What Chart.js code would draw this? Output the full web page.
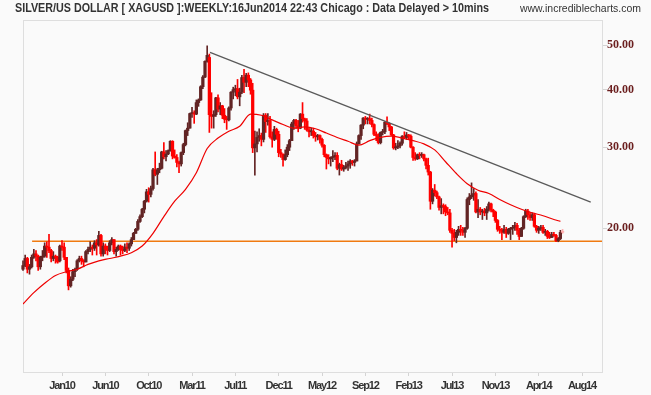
<!DOCTYPE html>
<html>
<head>
<meta charset="utf-8">
<script src="https://cdn.jsdelivr.net/npm/chart.js@4.4.0/dist/chart.umd.min.js"></script>
<style>
  html, body { margin: 0; padding: 0; background: #fafafa; }
  #wrap { position: relative; width: 651px; height: 395px; }
  #title { position: absolute; left: 15px; top: 1px; line-height: 14px; font: bold 12px 'Liberation Sans', Arial, sans-serif; color: #333; white-space: nowrap; transform-origin: left top; }
  #site { position: absolute; left: 520px; top: 2px; line-height: 14px; font: 11px 'Liberation Sans', Arial, sans-serif; color: #333; white-space: nowrap; transform-origin: left top; }
</style>
</head>
<body>
<div id="wrap">
  <canvas id="chart" width="651" height="395"></canvas>
  <div id="title">SILVER/US DOLLAR [ XAGUSD ]:WEEKLY:16Jun2014 22:43 Chicago : Data Delayed &gt; 10mins</div>
  <div id="site">www.incrediblecharts.com</div>
</div>
<script>
// weekly bars, week 0 = 7 Sep 2009, last = 16 Jun 2014 (still open)
const opens = [
  // 2009
  16.3,16.6,17.2,16.3,16.5,17.3,17.6,17.4,16.5,17.3,17.4,18.3,18.2,17.9,17.2,17.4,17.3,
  // 2010
  17.0,18.3,18.2,17.3,16.2,15.0,15.5,16.1,16.3,17.0,17.2,17.0,16.9,17.8,18.0,18.2,18.1,18.6,18.4,19.3,
  17.6,18.3,18.0,17.9,18.6,18.9,17.8,18.0,18.3,18.0,17.9,18.2,18.1,18.5,18.9,19.5,19.9,20.7,21.2,22.0,
  22.9,24.0,23.7,24.4,26.8,26.2,26.8,27.0,29.3,28.6,29.0,29.5,
  // 2011
  30.9,28.7,28.5,27.8,27.6,29.2,30.4,32.6,33.0,35.5,35.6,35.4,37.5,38.0,40.6,42.6,46.1,47.0,35.3,35.0,
  35.3,38.4,36.3,36.9,35.2,34.5,34.4,36.5,39.5,40.0,40.2,38.6,39.5,42.5,41.5,43.0,42.0,39.9,29.9,30.5,
  31.5,31.8,31.2,35.2,34.1,34.3,31.6,31.2,32.8,32.0,29.2,29.0,
  // 2012
  28.2,28.9,30.0,31.0,33.7,34.3,33.4,33.0,35.4,34.6,34.2,32.7,32.4,32.5,31.8,31.6,31.8,31.2,30.3,28.9,
  28.5,28.3,28.5,28.6,28.8,27.0,27.5,26.9,27.1,27.3,27.6,28.0,27.8,28.0,30.5,31.8,33.5,34.7,34.5,34.6,
  34.3,33.6,32.0,31.8,30.7,32.3,32.4,34.0,33.8,33.2,31.9,29.9,
  // 2013
  30.0,30.2,30.6,31.7,31.5,31.9,31.7,30.0,28.5,28.3,28.9,28.8,28.9,28.3,27.4,26.5,22.9,24.2,23.9,23.4,
  22.2,22.4,22.3,21.7,21.6,19.8,19.5,19.1,19.6,19.9,19.8,19.6,20.0,23.1,23.4,23.6,23.8,21.7,22.0,21.7,
  21.8,21.6,22.0,22.6,21.9,21.7,20.8,19.9,19.8,19.6,19.9,19.5,
  // 2014
  19.9,20.0,20.1,20.3,19.8,19.2,20.0,21.2,21.8,21.4,21.1,21.4,20.2,19.8,20.0,20.1,19.6,19.7,19.2,19.1,
  19.4,19.3,18.8,19.0,19.6
];
const highs = [
  17.0,17.5,17.3,16.7,17.5,18.0,17.9,17.5,17.4,17.9,18.6,18.7,19.4,18.0,17.8,17.5,17.4,
  18.4,18.8,18.6,17.3,16.4,15.7,16.3,16.4,17.1,17.4,17.4,17.1,17.9,18.2,18.7,18.4,18.8,18.9,19.7,19.4,
  18.6,18.5,18.3,18.8,19.1,18.9,18.2,18.4,18.4,18.3,18.5,18.6,18.6,19.1,19.6,20.0,20.9,21.4,22.1,23.0,
  24.3,24.5,24.7,27.0,29.3,27.0,27.7,29.4,30.7,29.5,29.6,31.0,
  31.0,29.6,28.9,28.0,29.3,30.6,32.7,33.9,35.6,36.6,36.0,38.0,38.2,40.8,42.9,46.2,49.8,47.8,39.4,36.0,
  38.5,39.0,37.5,37.0,36.4,35.0,36.7,39.6,40.5,40.9,42.1,40.3,43.0,44.3,43.4,43.5,42.3,41.3,32.5,32.4,
  32.9,32.2,35.5,35.5,35.5,35.0,32.4,33.3,33.0,32.5,29.7,29.0,
  29.6,30.4,31.2,34.0,34.5,34.5,34.3,35.5,37.5,34.7,34.6,33.0,33.0,33.0,32.3,32.0,31.9,31.4,30.4,29.0,
  28.9,28.6,29.5,29.2,29.2,27.7,28.1,27.4,27.8,28.0,28.2,28.1,28.2,30.8,31.9,33.6,34.8,35.0,34.8,35.4,
  34.7,33.7,32.4,32.1,32.4,32.8,34.1,34.9,33.9,33.3,32.0,30.6,
  31.0,30.8,31.8,32.4,32.3,32.0,31.9,30.1,29.2,29.0,29.2,29.2,29.0,28.4,28.4,26.6,24.4,24.9,24.1,23.5,
  23.2,22.6,22.5,22.2,22.0,20.0,19.9,19.8,20.2,20.3,20.1,20.1,23.3,23.8,25.1,24.4,24.0,23.1,22.2,22.0,
  22.1,22.3,22.8,22.7,22.0,21.8,20.9,20.2,20.0,20.3,20.1,20.0,
  20.1,20.3,20.6,20.5,20.0,20.1,21.3,22.0,22.0,21.6,21.6,21.5,20.3,20.2,20.3,20.3,19.9,19.8,19.6,19.6,
  19.6,19.4,19.1,19.8,19.9
];
const lows = [
  16.2,16.5,16.0,15.9,16.4,17.2,17.0,16.2,16.3,17.0,17.3,17.3,17.7,16.9,17.0,16.8,16.8,
  16.9,17.9,17.1,16.0,14.7,14.9,15.4,15.7,16.2,16.9,16.7,16.5,16.9,17.6,17.8,17.5,17.9,17.5,18.3,17.4,
  17.4,17.6,17.5,17.8,18.4,17.6,17.4,17.9,17.5,17.6,17.8,17.7,17.9,18.3,18.9,19.5,19.8,20.6,21.1,21.6,
  22.8,22.8,23.4,24.2,26.0,24.9,26.4,26.9,28.3,28.0,28.9,29.4,
  28.3,28.4,27.2,26.4,27.3,28.9,30.2,31.8,33.0,34.8,33.8,35.3,36.8,37.9,40.2,42.5,45.9,32.3,33.0,33.0,
  35.0,35.8,35.3,34.6,33.9,32.8,34.2,36.1,38.2,38.8,38.2,36.9,39.2,39.4,40.6,40.6,39.1,29.2,26.1,29.3,
  30.9,30.2,30.8,32.3,33.5,31.4,30.0,31.0,31.2,28.6,28.5,27.3,
  28.1,28.6,29.5,31.0,32.8,33.0,32.4,32.9,34.0,32.8,32.5,31.6,31.8,31.4,30.9,31.1,30.6,30.0,28.6,26.9,
  27.6,27.3,27.9,28.2,26.8,26.1,26.7,26.6,26.9,26.7,27.0,27.4,27.3,28.0,30.5,31.2,32.9,33.7,33.7,33.7,
  33.2,31.8,31.0,30.5,30.5,31.9,32.1,33.6,32.6,31.8,29.7,29.6,
  29.8,29.9,30.3,31.4,31.2,31.3,29.9,28.1,28.1,28.2,28.3,28.5,28.0,26.9,26.1,22.0,22.6,23.5,23.2,21.9,
  21.5,21.5,21.3,21.4,19.6,18.2,18.8,18.6,19.3,19.3,19.3,19.1,19.9,22.5,23.2,23.0,21.6,21.1,21.4,20.9,
  21.3,20.9,21.8,21.7,21.2,20.6,19.7,19.5,18.9,19.5,19.1,19.4,
  18.9,19.4,19.8,19.4,18.9,19.2,19.9,21.1,20.9,20.8,20.8,20.1,19.6,19.5,19.8,19.5,19.3,19.0,19.0,19.1,
  19.2,18.7,18.7,18.9,19.5
];
const closes = [
  16.6,17.2,16.3,16.5,17.3,17.6,17.4,16.5,17.3,17.4,18.3,18.2,17.9,17.2,17.4,17.3,16.9,
  18.3,18.2,17.3,16.2,15.0,15.5,16.1,16.3,17.0,17.2,17.0,16.9,17.8,18.0,18.2,18.1,18.6,18.4,19.3,17.6,
  18.3,18.0,17.9,18.6,18.9,17.8,18.0,18.3,18.0,17.9,18.2,18.1,18.5,18.9,19.5,19.9,20.7,21.2,22.0,22.9,
  24.0,23.7,24.4,26.8,26.2,26.8,27.0,29.3,28.6,29.0,29.5,30.9,
  28.7,28.5,27.8,27.6,29.2,30.4,32.6,33.0,35.5,35.6,35.4,37.5,38.0,40.6,42.6,46.1,47.5,35.3,35.0,35.3,
  38.4,36.3,36.9,35.2,34.5,34.4,36.5,39.5,40.0,40.2,38.6,39.5,42.5,41.5,43.0,42.0,39.9,29.9,30.5,31.5,
  31.8,31.2,35.2,34.1,34.3,31.6,31.2,32.8,32.0,29.2,29.0,28.2,
  28.9,30.0,31.0,33.7,34.3,33.4,33.0,35.4,34.6,34.2,32.7,32.4,32.5,31.8,31.6,31.8,31.2,30.3,28.9,28.5,
  28.3,28.5,28.6,28.8,27.0,27.5,26.9,27.1,27.3,27.6,28.0,27.8,28.0,30.5,31.8,33.5,34.7,34.5,34.6,34.3,
  33.6,32.0,31.8,30.7,32.3,32.4,34.0,33.8,33.2,31.9,29.9,30.0,
  30.2,30.6,31.7,31.5,31.9,31.7,30.0,28.5,28.3,28.9,28.8,28.9,28.3,27.4,26.5,22.9,24.2,23.9,23.4,22.2,
  22.4,22.3,21.7,21.6,19.8,19.5,19.1,19.6,19.9,19.8,19.6,20.0,23.1,23.4,23.6,23.8,21.7,22.0,21.7,21.8,
  21.6,22.0,22.6,21.9,21.7,20.8,19.9,19.8,19.6,19.9,19.5,19.9,
  20.0,20.1,20.3,19.8,19.2,20.0,21.2,21.8,21.4,21.1,21.4,20.2,19.8,20.0,20.1,19.6,19.7,19.2,19.1,19.4,
  19.3,18.8,19.0,19.6,19.7
];

// moving average
const maWeeks = [0,5,10,15,20,25,30,35,40,45,50,55,60,65,70,75,80,85,90,95,100,105,110,115,120,125,
  130,135,140,145,150,155,160,165,170,175,180,185,190,195,200,205,210,215,220,225,230,235,240,245,248];
const maValues = [13.7,14.5,15.2,15.8,16.1,16.3,16.7,17.0,17.2,17.4,17.7,18.3,19.5,21.2,22.9,24.3,26.4,
  29.8,31.4,32.5,33.3,35.4,35.2,34.4,33.6,33.0,33.2,32.9,32.2,31.5,30.9,30.3,31.0,31.5,31.7,31.4,31.0,
  30.5,29.6,27.9,26.3,25.0,24.2,23.8,23.1,22.5,22.0,21.6,21.3,20.9,20.7];

// drawn lines
const trendWeeks = [86.3, 262];
const trendValues = [48.2, 22.8];
const supportWeeks = [4.2, 267.2];
const supportValues = [18.74, 18.74];

const tickWeeks = [18,38,58,78,98,118,138,158,178,198,218,238,258];
const tickLabels = ['Jan10','Jun10','Oct10','Mar11','Jul11','Dec11','May12','Sep12','Feb13','Jul13','Nov13','Apr14','Aug14'];
const priceTicks = [20, 30, 40, 50];

const upColor = '#622424';
const downColor = '#ff0000';
const liveColor = '#ffb0b0';

function barColor(ctx) {
  const i = ctx.dataIndex;
  if (i === closes.length - 1) return liveColor;
  return closes[i] >= opens[i] ? upColor : downColor;
}

// squeeze header text to the narrow look of the original
function fitText(id, width) {
  const el = document.getElementById(id);
  const w = el.getBoundingClientRect().width;
  el.style.transform = 'scaleX(' + (width / w) + ')';
}
fitText('title', 474);
fitText('site', 121);

const framePlugin = {
  id: 'frame',
  beforeDatasetsDraw(chart) {
    const a = chart.chartArea;
    const ctx = chart.ctx;
    ctx.save();
    ctx.strokeStyle = '#dedede';
    ctx.lineWidth = 1;
    ctx.strokeRect(Math.round(a.left) + 0.5, Math.round(a.top) + 0.5,
      Math.round(a.right - a.left), Math.round(a.bottom - a.top));
    ctx.restore();
  }
};

// the date labels in the original use a narrow face
const narrowLabels = {
  id: 'narrowLabels',
  afterLayout(chart) {
    const xs = chart.scales.x;
    if (xs._narrowed) return;
    const draw = xs.drawLabels;
    xs.drawLabels = function (area) {
      this.ctx.save();
      this.ctx.letterSpacing = '-1.1px';
      draw.call(this, area);
      this.ctx.restore();
    };
    xs._narrowed = true;
  }
};

new Chart(document.getElementById('chart'), {
  type: 'bar',
  data: {
    datasets: [
      {
        type: 'line',
        data: supportWeeks.map((w, i) => ({ x: w, y: supportValues[i] })),
        borderColor: '#f07a10',
        borderWidth: 1.4,
        pointRadius: 0,
        order: 6
      },
      {
        data: closes.map((c, i) => ({ x: i, y: [lows[i], highs[i]] })),
        backgroundColor: barColor,
        barThickness: 1,
        grouped: false,
        clip: false,
        order: 5
      },
      {
        data: closes.map((c, i) => ({ x: i, y: [opens[i], c] })),
        backgroundColor: barColor,
        barThickness: 2.6,
        minBarLength: 1,
        grouped: false,
        clip: false,
        order: 4
      },
      {
        type: 'line',
        data: maWeeks.map((w, i) => ({ x: w, y: maValues[i] })),
        borderColor: '#ee0000',
        borderWidth: 1.2,
        pointRadius: 0,
        cubicInterpolationMode: 'monotone',
        order: 2
      },
      {
        type: 'line',
        data: trendWeeks.map((w, i) => ({ x: w, y: trendValues[i] })),
        borderColor: '#5a5a5a',
        borderWidth: 1.3,
        pointRadius: 0,
        order: 1
      }
    ]
  },
  options: {
    responsive: false,
    animation: false,
    layout: { padding: { left: 23, top: 20, right: 0, bottom: 0 } },
    plugins: {
      legend: { display: false },
      tooltip: { enabled: false }
    },
    scales: {
      x: {
        type: 'linear',
        offset: false,
        min: 0,
        max: 267.2,
        afterBuildTicks: (scale) => { scale.ticks = tickWeeks.map(v => ({ value: v })); },
        afterFit: (scale) => { scale.height = 23; },
        grid: { drawOnChartArea: false, drawTicks: true, tickLength: 4, color: '#d4d4d4', offset: false },
        border: { display: false },
        ticks: {
          autoSkip: false,
          maxRotation: 0,
          padding: 3,
          color: '#333',
          font: { family: "'Liberation Sans', Arial, sans-serif", size: 11, weight: 'bold' },
          callback: (v) => {
            const i = tickWeeks.indexOf(v);
            return i >= 0 ? tickLabels[i] : '';
          }
        }
      },
      y: {
        type: 'logarithmic',
        position: 'right',
        min: 9.75,
        max: 56.67,
        afterBuildTicks: (scale) => { scale.ticks = priceTicks.map(v => ({ value: v })); },
        afterFit: (scale) => { scale.width = 49; },
        grid: { drawOnChartArea: false, drawTicks: true, tickLength: 5, color: '#d4d4d4' },
        border: { display: false },
        ticks: {
          padding: 0,
          color: '#6b1f1f',
          font: { family: "'Liberation Serif', 'Times New Roman', serif", size: 12, weight: 'bold' },
          callback: (v) => Number(v).toFixed(2)
        }
      }
    }
  },
  plugins: [framePlugin, narrowLabels]
});
</script>
</body>
</html>
